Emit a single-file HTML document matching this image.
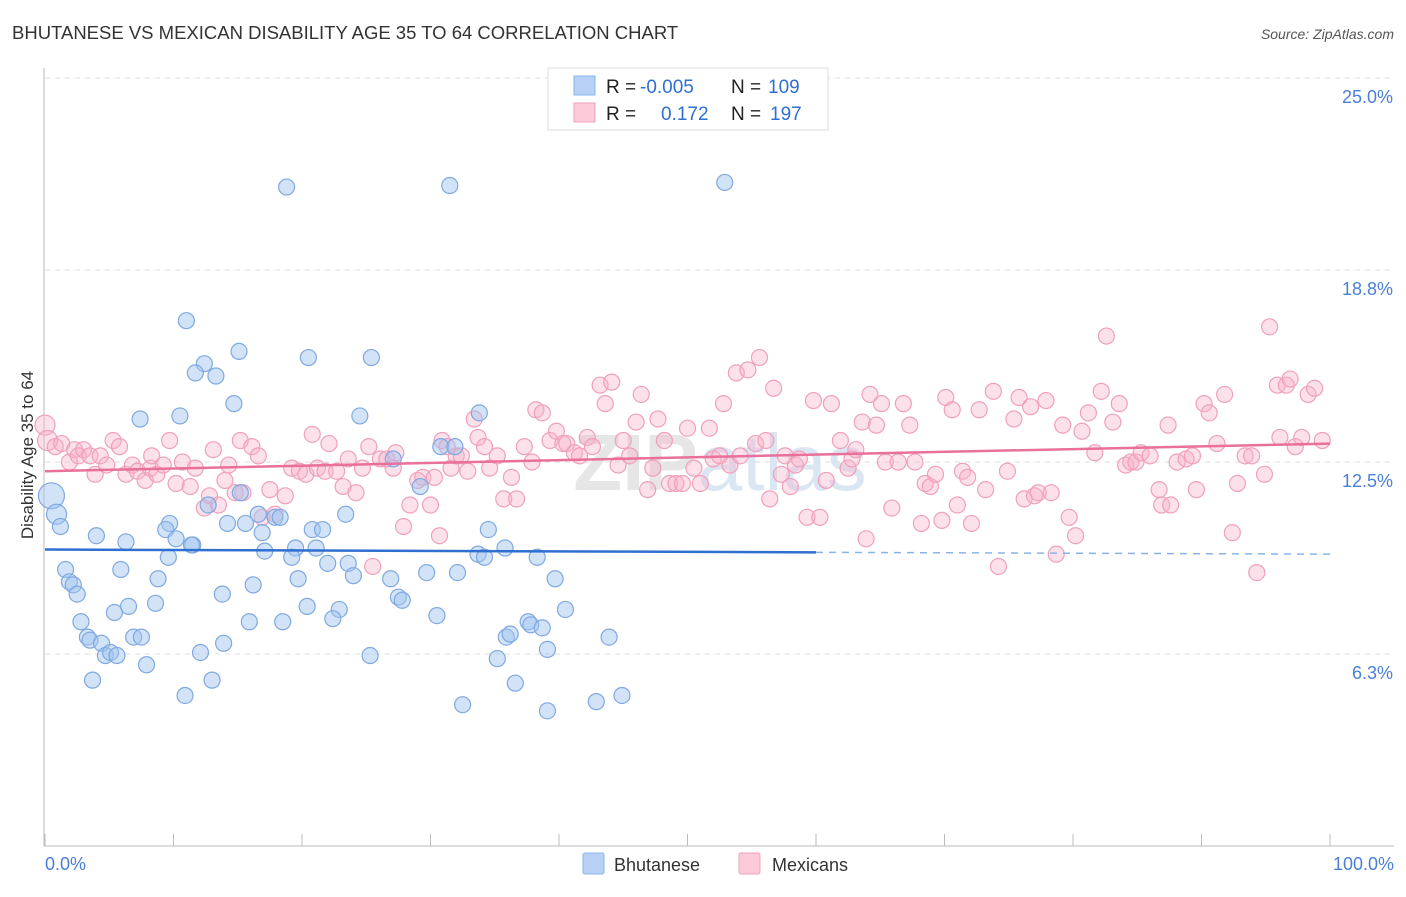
<!DOCTYPE html>
<html><head><meta charset="utf-8"><style>
body{margin:0;background:#fff;font-family:"Liberation Sans",sans-serif;}
svg text{font-family:"Liberation Sans",sans-serif;}
</style></head><body>
<svg id="chart" width="1406" height="892">
<text x="12" y="39" font-size="18.5" fill="#333">BHUTANESE VS MEXICAN DISABILITY AGE 35 TO 64 CORRELATION CHART</text>
<text x="1394" y="39" font-size="14" fill="#555" font-style="italic" text-anchor="end">Source: ZipAtlas.com</text>
<text x="720" y="490" font-size="80" font-weight="bold" fill="#e6e6e6" text-anchor="middle">ZIP<tspan fill="#dbe6f3" font-weight="normal">atlas</tspan></text>
<g id="grid"></g>
<g id="axes"></g>
<g id="marks"></g>
<g id="trends"></g>
<text transform="translate(33,455) rotate(-90)" font-size="17" fill="#333" text-anchor="middle">Disability Age 35 to 64</text>
<text x="45" y="870" font-size="18" fill="#4a7fd8">0.0%</text>
<text x="1394" y="870" font-size="18" fill="#4a7fd8" text-anchor="end">100.0%</text>
<g>
<rect x="548" y="68" width="280" height="62" fill="#fff" stroke="#ddd"/>
<rect x="574" y="76" width="21" height="19" fill="#b7d0f3" stroke="#8ab4e8"/>
<rect x="574" y="103" width="21" height="19" fill="#fbcbd9" stroke="#f0a0bb"/>
<text x="606" y="93" font-size="19" fill="#222">R = <tspan fill="#2f6fd0" x="640">-0.005</tspan><tspan fill="#222" x="731">N = </tspan><tspan fill="#2f6fd0" x="768">109</tspan></text>
<text x="606" y="120" font-size="19" fill="#222">R = <tspan fill="#2f6fd0" x="661">0.172</tspan><tspan fill="#222" x="731">N = </tspan><tspan fill="#2f6fd0" x="770">197</tspan></text>
</g>
<g>
<rect x="583" y="853" width="21" height="21" fill="#b7d0f3" stroke="#8ab4e8" rx="2"/>
<text x="614" y="871" font-size="18" fill="#333">Bhutanese</text>
<rect x="739" y="853" width="21" height="21" fill="#fbcbd9" stroke="#f0a0bb" rx="2"/>
<text x="772" y="871" font-size="18" fill="#333">Mexicans</text>
</g>
</svg>
<script>
const yTicks=[6.3,12.5,18.8,25.0];
const yTickPos=[6.25,12.5,18.75,25];
const blueX=[18.8,31.5,52.9,11.0,15.1,20.5,25.4,12.4,11.7,13.3,14.7,7.4,10.5,24.5,33.8,0.5,0.9,1.2,30.8,31.9,27.1,29.2,12.7,15.2,9.7,9.4,10.2,11.5,14.2,15.6,16.6,16.9,17.9,18.3,20.8,21.6,23.4,4.0,6.3,9.6,11.4,17.1,19.5,19.2,21.1,22.0,23.6,24.0,33.7,34.2,34.5,35.8,38.3,1.6,5.9,1.9,2.2,2.5,8.8,16.2,19.7,26.9,29.7,32.1,39.7,13.8,20.4,22.9,27.5,27.8,6.5,5.4,8.6,2.8,15.9,18.5,22.4,30.5,37.6,37.8,38.7,40.5,3.3,3.5,4.4,6.9,7.5,13.9,4.7,5.1,5.6,12.1,25.3,35.2,39.1,35.9,36.2,43.9,3.7,7.9,13.0,10.9,32.5,36.6,39.1,42.9,44.9];
const blueY=[21.45,21.5,21.6,17.1,16.1,15.9,15.9,15.7,15.4,15.3,14.4,13.9,14.0,14.0,14.1,11.4,10.8,10.4,13.0,13.0,12.6,11.7,11.1,11.5,10.5,10.3,10.0,9.8,10.5,10.5,10.8,10.2,10.7,10.7,10.3,10.3,10.8,10.1,9.9,9.4,9.8,9.6,9.7,9.4,9.7,9.2,9.2,8.8,9.5,9.4,10.3,9.7,9.4,9.0,9.0,8.6,8.5,8.2,8.7,8.5,8.7,8.7,8.9,8.9,8.7,8.2,7.8,7.7,8.1,8.0,7.8,7.6,7.9,7.3,7.3,7.3,7.4,7.5,7.3,7.2,7.1,7.7,6.8,6.7,6.6,6.8,6.8,6.6,6.2,6.3,6.2,6.3,6.2,6.1,6.4,6.8,6.9,6.8,5.4,5.9,5.4,4.9,4.6,5.3,4.4,4.7,4.9];
const pinkX=[0,0.2,0.8,1.3,1.9,2.3,2.6,3.0,3.5,3.9,4.3,4.8,5.3,5.8,6.3,6.8,7.2,7.8,8.2,8.3,8.7,9.2,9.7,10.2,10.7,11.3,11.7,12.4,12.8,13.1,13.5,14.0,14.3,14.8,15.2,15.4,16.1,16.6,16.9,17.5,17.9,18.7,19.2,19.8,20.3,20.8,21.2,21.8,22.1,22.7,23.2,23.6,24.2,24.7,25.2,25.5,26.1,26.6,27.1,27.3,27.9,28.4,29.0,29.4,30.0,30.3,30.7,30.9,31.3,31.6,32.0,32.4,32.9,33.4,33.7,34.2,34.6,35.2,35.7,36.3,36.7,37.3,37.9,38.2,38.7,39.3,39.8,40.3,40.6,41.2,41.6,42.2,42.6,43.2,43.6,44.1,44.6,45.0,45.5,46.0,46.4,46.9,47.3,47.7,48.2,48.6,49.1,49.6,50.0,50.5,51.0,51.7,52.0,52.5,52.8,53.3,53.8,54.1,54.7,55.3,55.6,56.1,56.4,56.7,57.3,57.6,58.0,58.4,58.7,59.3,59.8,60.3,60.8,61.2,61.9,62.5,62.8,63.1,63.6,63.9,64.2,64.7,65.1,65.4,65.9,66.4,66.8,67.3,67.7,68.2,68.5,68.9,69.3,69.8,70.1,70.6,71.0,71.4,71.8,72.1,72.7,73.2,73.8,74.2,74.9,75.4,75.8,76.2,76.7,77.0,77.3,77.9,78.3,78.7,79.2,79.7,80.2,80.7,81.2,81.7,82.2,82.6,83.1,83.6,84.1,84.5,84.9,85.3,86.0,86.7,86.9,87.4,87.6,88.1,88.8,89.3,89.6,90.2,90.6,91.2,91.8,92.4,92.8,93.4,93.9,94.3,94.9,95.3,95.9,96.1,96.6,96.9,97.3,97.8,98.3,98.8,99.4];
const pinkY=[13.7,13.2,13.0,13.1,12.5,12.9,12.7,12.9,12.7,12.1,12.7,12.4,13.2,13.0,12.1,12.4,12.2,11.9,12.3,12.7,12.1,12.4,13.2,11.8,12.5,11.7,12.3,11.0,11.4,12.9,11.1,11.9,12.4,11.5,13.2,11.5,13.0,12.7,10.7,11.6,10.8,11.4,12.3,12.2,12.1,13.4,12.3,12.2,13.1,12.2,11.7,12.6,11.5,12.3,13.0,9.1,12.6,12.6,12.3,12.8,10.4,11.1,11.9,12.0,11.1,12.0,10.1,13.2,13.0,12.3,12.7,12.7,12.2,13.9,13.3,13.0,12.3,12.7,11.3,12.0,11.3,13.0,12.5,14.2,14.1,13.2,13.5,13.1,13.1,12.8,12.7,13.3,13.0,15.0,14.4,15.1,12.4,13.2,12.7,13.8,14.7,11.6,12.3,13.9,13.2,11.8,11.8,11.8,13.6,12.3,11.8,13.6,12.6,12.7,14.4,12.4,15.4,12.7,15.5,13.1,15.9,13.2,11.3,14.9,12.1,12.7,11.7,12.4,12.6,10.7,14.5,10.7,11.9,14.4,13.2,12.3,12.6,12.9,13.8,10.0,14.7,13.7,14.4,12.5,11.0,12.5,14.4,13.7,12.5,10.5,11.8,11.7,12.1,10.6,14.6,14.2,11.1,12.2,12.0,10.5,14.2,11.6,14.8,9.1,12.2,13.9,14.6,11.3,14.3,11.4,11.5,14.5,11.5,9.5,13.7,10.7,10.1,13.5,14.1,12.8,14.8,16.6,13.8,14.4,12.4,12.5,12.5,12.8,12.7,11.6,11.1,13.7,11.1,12.5,12.6,12.7,11.6,14.4,14.1,13.1,14.7,10.2,11.8,12.7,12.7,8.9,12.1,16.9,15.0,13.3,15.0,15.2,13.0,13.3,14.7,14.9,13.2];
const blueTrend=[9.65,9.5];
const pinkTrend=[12.2,13.1];

const NS='http://www.w3.org/2000/svg';
const X0=45,X1=1330,YB=846,PXPER=192/6.25;
function sx(v){return X0+(X1-X0)*v/100;}
function sy(v){return YB-v*PXPER;}
function mk(tag,attrs,parent){const e=document.createElementNS(NS,tag);for(const k in attrs)e.setAttribute(k,attrs[k]);parent.appendChild(e);return e;}
const grid=document.getElementById('grid'),axes=document.getElementById('axes'),marks=document.getElementById('marks'),trends=document.getElementById('trends');
yTickPos.forEach((v,i)=>{
  const l=mk('line',{x1:45,x2:1394,y1:sy(v),y2:sy(v),stroke:'#ddd','stroke-dasharray':'5,5'},grid);
  
  
  const t=mk('text',{x:1393,y:sy(v)+25,'font-size':18,fill:'#4a7fd8','text-anchor':'end'},grid);
  t.textContent=yTicks[i].toFixed(1)+'%';
  
  
});
const ya=mk('line',{x1:44,x2:44,y1:68,y2:846,stroke:'#bbb'},axes);


const xa=mk('line',{x1:44,x2:1394,y1:846,y2:846,stroke:'#bbb'},axes);


for(let i=0;i<=10;i++){
  const t=mk('line',{x1:sx(i*10),x2:sx(i*10),y1:834,y2:846,stroke:'#bbb'},axes);
  
  
}
pinkX.forEach((v,i)=>{
  const c=mk('circle',{cx:sx(v),cy:sy(pinkY[i]),r:i<2?10:8,fill:'rgba(248,175,200,0.38)',stroke:'#f0a0bb','stroke-width':1.2},marks);
  
  
});
blueX.forEach((v,i)=>{
  const c=mk('circle',{cx:sx(v),cy:sy(blueY[i]),r:i==15?13:(i==16?10:8),fill:'rgba(160,196,240,0.48)',stroke:'#7fa9e0','stroke-width':1.2},marks);
  
  
});
function by(x){return blueTrend[0]+(blueTrend[1]-blueTrend[0])*x/100;}
const bl=mk('line',{x1:sx(0),y1:sy(by(0)),x2:sx(60),y2:sy(by(60)),stroke:'#2f6fd0','stroke-width':2.5},trends);


const bd=mk('line',{x1:sx(60),y1:sy(by(60)),x2:sx(100),y2:sy(by(100)),stroke:'#8ab4e8','stroke-width':1.5,'stroke-dasharray':'7,6'},trends);


const pl=mk('line',{x1:sx(0),y1:sy(pinkTrend[0]),x2:sx(100),y2:sy(pinkTrend[1]),stroke:'#e8709a','stroke-width':2.5},trends);


</script>
</body></html>
